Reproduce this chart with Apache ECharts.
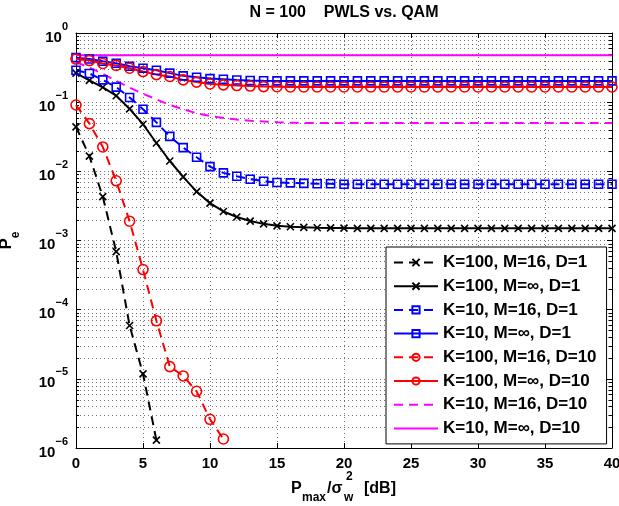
<!DOCTYPE html>
<html><head><meta charset="utf-8">
<script src="https://cdn.jsdelivr.net/npm/echarts@6/dist/echarts.min.js"></script>
<style>html,body{margin:0;padding:0;background:#fff}#c{width:619px;height:506px}</style>
</head><body><div id="c"></div>
<script>
// ---------- data ----------
const dB = [0,1,2,3,4,5,6,7,8,9,10,11,12,13,14,15,16,17,18,19,20,21,22,23,24,25,26,27,28,29,30,31,32,33,34,35,36,37,38,39,40];
const seriesNames = [
  'K=100, M=16, D=1', 'K=100, M=\u221e, D=1',
  'K=10, M=16, D=1', 'K=10, M=\u221e, D=1',
  'K=100, M=16, D=10', 'K=100, M=\u221e, D=10',
  'K=10, M=16, D=10', 'K=10, M=\u221e, D=10'
];
const k100m16d1 = [0.044,0.0166,0.0043,6.9e-4,5.9e-5,1.18e-5,1.3e-6];
const k100minfd1 = [0.263,0.207,0.164,0.124,0.080,0.048,0.0257,0.0141,0.0083,0.0051,0.00347,0.00263,0.00219,0.00191,0.00174,0.00163,0.00158,0.00155,0.00153,0.00152,0.00151,0.0015,0.0015,0.0015,0.0015,0.0015,0.0015,0.0015,0.0015,0.0015,0.0015,0.0015,0.0015,0.0015,0.0015,0.0015,0.0015,0.0015,0.0015,0.0015,0.0015];
const k10m16d1 = [0.29,0.26,0.21,0.165,0.117,0.079,0.051,0.032,0.022,0.016,0.0117,0.0095,0.0085,0.0077,0.0072,0.0069,0.0068,0.0067,0.0066,0.0066,0.0065,0.0065,0.0065,0.0065,0.0065,0.0065,0.0065,0.0065,0.0065,0.0065,0.0065,0.0065,0.0065,0.0065,0.0065,0.0065,0.0065,0.0065,0.0065,0.0065,0.0065];
const k10minfd1 = [0.44,0.42,0.39,0.365,0.33,0.31,0.29,0.263,0.24,0.229,0.219,0.214,0.209,0.206,0.204,0.203,0.203,0.203,0.203,0.203,0.203,0.203,0.203,0.203,0.203,0.203,0.203,0.203,0.203,0.203,0.203,0.203,0.203,0.203,0.203,0.203,0.203,0.203,0.203,0.203,0.203];
const k100m16d10 = [0.091,0.049,0.0225,0.0073,0.0019,3.8e-4,6.9e-5,1.5e-5,1.1e-5,6.6e-6,2.6e-6,1.35e-6];
const k100minfd10 = [0.42,0.40,0.363,0.34,0.31,0.277,0.25,0.235,0.21,0.195,0.183,0.178,0.174,0.171,0.168,0.167,0.166,0.166,0.166,0.166,0.166,0.166,0.166,0.166,0.166,0.166,0.166,0.166,0.166,0.166,0.166,0.166,0.166,0.166,0.166,0.166,0.166,0.166,0.166,0.166,0.166];
const k10m16d10 = [0.38,0.316,0.257,0.204,0.162,0.132,0.110,0.091,0.079,0.069,0.063,0.059,0.056,0.054,0.0525,0.0513,0.0505,0.050,0.050,0.050,0.050,0.050,0.050,0.050,0.050,0.050,0.050,0.050,0.050,0.050,0.050,0.050,0.050,0.050,0.050,0.050,0.050,0.050,0.050,0.050,0.050];
const k10minfd10 = [0.475,0.475,0.475,0.475,0.475,0.475,0.475,0.475,0.475,0.475,0.475,0.475,0.475,0.475,0.475,0.475,0.475,0.475,0.475,0.475,0.475,0.475,0.475,0.475,0.475,0.475,0.475,0.475,0.475,0.475,0.475,0.475,0.475,0.475,0.475,0.475,0.475,0.475,0.475,0.475,0.475];
const yDecades = [1e-6,1e-5,1e-4,1e-3,1e-2,1e-1];
const minorMultipliers = [2,3,4,5,6,7,8,9];

// ---------- helpers ----------
const FF = '"Liberation Sans", Arial, Helvetica, sans-serif';
const pair = arr => arr.map((v, i) => [dB[i], v]);
const dash = [9, 6];
const xMark = 'path://M0,0L10,10M0,10L10,0';
function mk(name, data, color, dashed, symbol, size) {
  return {
    name, type: 'line', data: pair(data), xAxisIndex: 0, yAxisIndex: 0,
    showSymbol: !!symbol, symbol: symbol || 'circle', symbolSize: size || 8,
    lineStyle: { color, width: 2, type: dashed ? dash : 'solid' },
    itemStyle: { color: 'rgba(0,0,0,0)', borderColor: symbol ? color : 'rgba(0,0,0,0)', borderWidth: symbol ? 1.6 : 0 },
    emphasis: { disabled: true }, animation: false, z: 3
  };
}
const minorData = [];
yDecades.forEach(d => minorMultipliers.forEach(m => minorData.push([0, d * m])));

const chart = echarts.init(document.getElementById('c'), null, { renderer: 'canvas' });
const gridLine = { show: true, lineStyle: { color: '#000', opacity: 0.55, width: 1, type: [1, 3] } };
const yLabel = {
  show: true, margin: 8, color: '#000', fontFamily: FF,
  formatter: v => {
    const e = Math.round(Math.log10(v));
    return '{b|10}{s|' + (e < 0 ? '\u2212' + (-e) : e) + '}';
  },
  rich: {
    b: { fontSize: 15, fontWeight: 'bold', fontFamily: FF, color: '#000', lineHeight: 24, verticalAlign: 'bottom' },
    s: { fontSize: 11, fontWeight: 'bold', fontFamily: FF, color: '#000', lineHeight: 14, verticalAlign: 'top' }
  }
};
chart.setOption({
  animation: false,
  backgroundColor: '#fff',
  grid: { left: 76, right: 7, top: 33, bottom: 58, containLabel: false, outerBoundsMode: 'none' },
  xAxis: [
    { type: 'value', min: 0, max: 40, interval: 5, position: 'bottom',
      axisLine: { show: true, onZero: false, lineStyle: { color: '#000', width: 1 } },
      axisTick: { show: true, inside: true, length: 5, lineStyle: { color: '#000' } },
      axisLabel: { show: true, margin: 8, color: '#000', fontSize: 15, fontWeight: 'bold', fontFamily: FF },
      splitLine: gridLine },
    { type: 'value', min: 0, max: 40, interval: 5, position: 'top',
      axisLine: { show: true, onZero: false, lineStyle: { color: '#000', width: 1 } },
      axisTick: { show: true, inside: true, length: 5, lineStyle: { color: '#000' } },
      axisLabel: { show: false }, splitLine: { show: false } }
  ],
  yAxis: [
    { type: 'log', logBase: 10, min: 1e-6, max: 1, position: 'left',
      axisLine: { show: true, onZero: false, lineStyle: { color: '#000', width: 1 } },
      axisTick: { show: true, inside: true, length: 5, lineStyle: { color: '#000' } },
      axisLabel: yLabel, splitLine: gridLine,
      name: '{p|P}{e|e}', nameLocation: 'middle', nameGap: 54, nameRotate: 90, nameMoveOverlap: false,
      nameTextStyle: { rich: {
        p: { fontSize: 17, fontWeight: 'bold', fontFamily: FF, color: '#000', lineHeight: 24, verticalAlign: 'top' },
        e: { fontSize: 12, fontWeight: 'bold', fontFamily: FF, color: '#000', lineHeight: 12, verticalAlign: 'bottom' }
      } } },
    { type: 'log', logBase: 10, min: 1e-6, max: 1, position: 'right',
      axisLine: { show: true, onZero: false, lineStyle: { color: '#000', width: 1 } },
      axisTick: { show: true, inside: true, length: 5, lineStyle: { color: '#000' } },
      axisLabel: { show: false }, splitLine: { show: false } }
  ],
  legend: {
    orient: 'vertical', left: 386, top: 247,
    data: seriesNames, itemWidth: 44, itemHeight: 9, itemGap: 6.7,
    padding: [7, 10, 7, 7], backgroundColor: '#fff', borderColor: '#000', borderWidth: 1,
    textStyle: { fontSize: 17, fontWeight: 'bold', fontFamily: FF, color: '#000', lineHeight: 16 },
    selectedMode: false
  },
  graphic: [
    { type: 'text', x: 344, y: 13, style: { text: 'N = 100    PWLS vs. QAM', fontSize: 16, fontWeight: 'bold', fontFamily: FF, fill: '#000', align: 'center', verticalAlign: 'middle' } },
    { type: 'text', x: 291, y: 489, style: { text: 'P', fontSize: 16, fontWeight: 'bold', fontFamily: FF, fill: '#000', align: 'left', verticalAlign: 'middle' } },
    { type: 'text', x: 302, y: 498, style: { text: 'max', fontSize: 12, fontWeight: 'bold', fontFamily: FF, fill: '#000', align: 'left', verticalAlign: 'middle' } },
    { type: 'text', x: 327, y: 489, style: { text: '/\u03c3', fontSize: 16, fontWeight: 'bold', fontFamily: FF, fill: '#000', align: 'left', verticalAlign: 'middle' } },
    { type: 'text', x: 344, y: 498, style: { text: 'w', fontSize: 12, fontWeight: 'bold', fontFamily: FF, fill: '#000', align: 'left', verticalAlign: 'middle' } },
    { type: 'text', x: 346, y: 477, style: { text: '2', fontSize: 12, fontWeight: 'bold', fontFamily: FF, fill: '#000', align: 'left', verticalAlign: 'middle' } },
    { type: 'text', x: 364, y: 489, style: { text: '[dB]', fontSize: 16, fontWeight: 'bold', fontFamily: FF, fill: '#000', align: 'left', verticalAlign: 'middle' } }
  ],
  series: [
    { type: 'custom', silent: true, xAxisIndex: 0, yAxisIndex: 0, data: minorData, z: 1, clip: false,
      renderItem: (params, api) => {
        const a = api.coord([0, api.value(1)]);
        const b = api.coord([40, api.value(1)]);
        const y = Math.round(a[1]) + 0.5;
        return { type: 'group', children: [
          { type: 'line', shape: { x1: a[0], y1: y, x2: b[0], y2: y }, style: { stroke: '#000', lineWidth: 1, lineDash: [1, 3], opacity: 0.55 } },
          { type: 'line', shape: { x1: a[0], y1: y, x2: a[0] + 3, y2: y }, style: { stroke: '#000', lineWidth: 1 } },
          { type: 'line', shape: { x1: b[0] - 3, y1: y, x2: b[0], y2: y }, style: { stroke: '#000', lineWidth: 1 } }
        ] };
      } },
    mk(seriesNames[0], k100m16d1, '#000000', true, xMark, 7),
    mk(seriesNames[1], k100minfd1, '#000000', false, xMark, 7),
    mk(seriesNames[2], k10m16d1, '#0000ff', true, 'rect', 8),
    mk(seriesNames[3], k10minfd1, '#0000ff', false, 'rect', 8),
    mk(seriesNames[4], k100m16d10, '#ff0000', true, 'circle', 10),
    mk(seriesNames[5], k100minfd10, '#ff0000', false, 'circle', 10),
    mk(seriesNames[6], k10m16d10, '#ff00ff', true, null),
    mk(seriesNames[7], k10minfd10, '#ff00ff', false, null)
  ]
});
</script></body></html>
